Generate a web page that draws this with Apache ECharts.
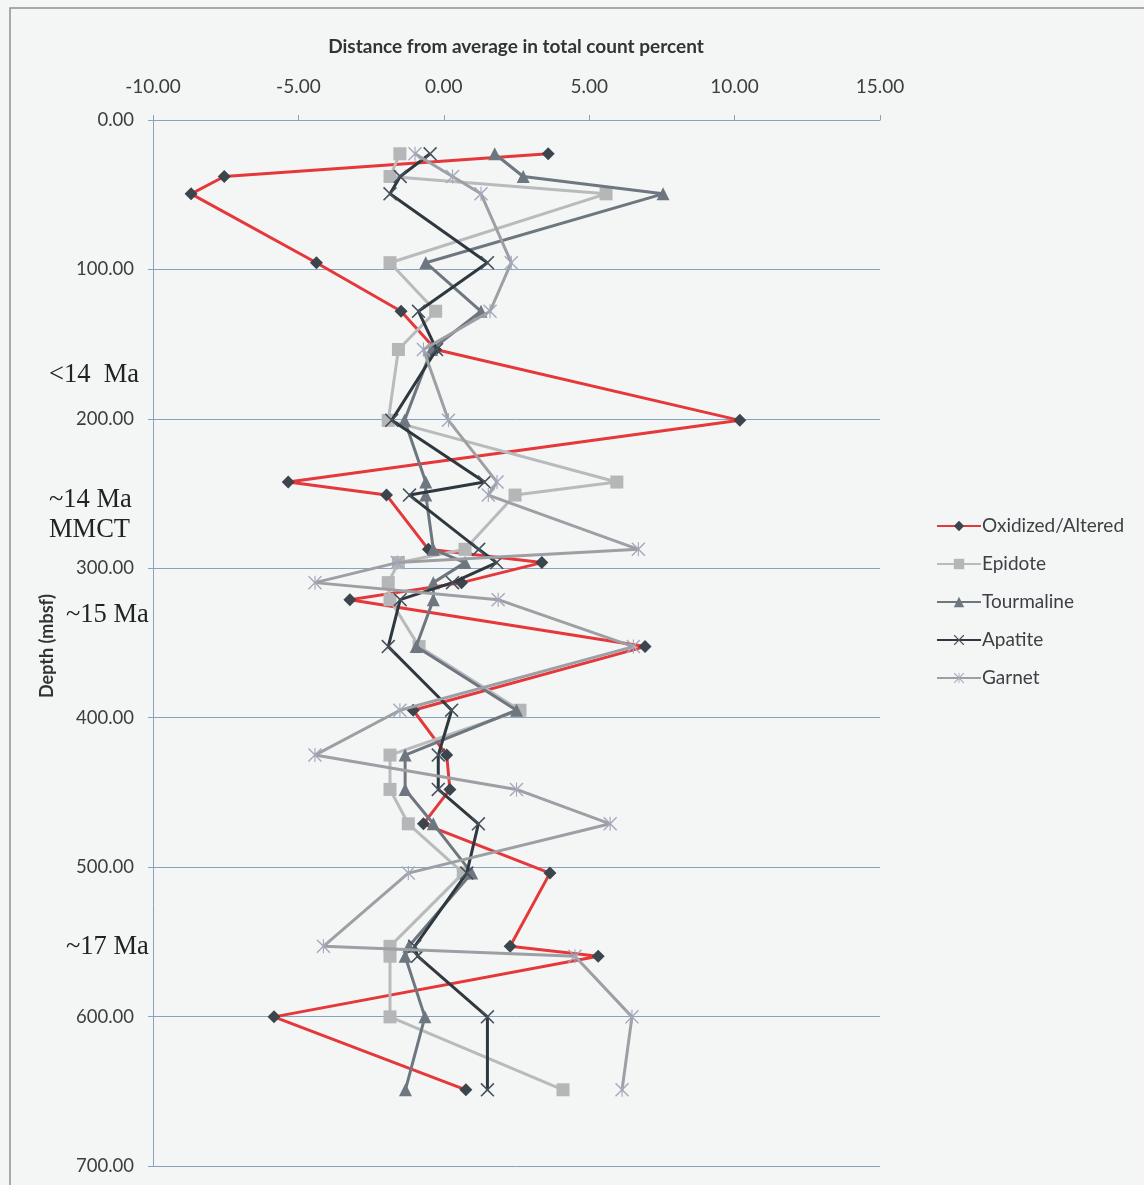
<!DOCTYPE html>
<html>
<head>
<meta charset="utf-8">
<script src="https://cdn.jsdelivr.net/npm/echarts@6/dist/echarts.min.js"></script>
<style>
  html, body { margin: 0; padding: 0; background: #f4f5f5; }
  #chart { width: 1144px; height: 1185px; }
</style>
</head>
<body>
<div id="chart"></div>
<script>
// Sample depths (mbsf) shared by every mineral series
const depths = [22.6, 37.8, 49.4, 95.5, 128, 153.6, 201, 242.3, 251, 287.3, 296.2, 309.6, 321,
                352.4, 395, 425, 448, 471, 504, 553, 559.6, 600.2, 649];

// Distance from average in total count percent, one value per depth
const oxidized   = [3.59, -7.55, -8.69, -4.38, -1.47, -0.28, 10.18, -5.35, -1.97, -0.53, 3.37, 0.61, -3.23,
                    6.92, -1.05, 0.10, 0.21, -0.70, 3.65, 2.28, 5.31, -5.84, 0.76];
const epidote    = [-1.51, -1.85, 5.58, -1.85, -0.28, -1.56, -1.91, 5.95, 2.45, 0.73, -1.56, -1.91, -1.85,
                    -0.85, 2.62, -1.85, -1.85, -1.22, 0.67, -1.85, -1.85, -1.85, 4.10];
const tourmaline = [1.75, 2.73, 7.54, -0.62, 1.28, -0.42, -1.35, -0.62, -0.62, -0.36, 0.73, -0.36, -0.36,
                    -0.95, 2.50, -1.33, -1.33, -0.36, 0.96, -1.20, -1.33, -0.65, -1.32];
const apatite    = [-0.47, -1.50, -1.85, 1.50, -0.87, -0.25, -1.79, 1.40, -1.18, 1.20, 1.82, 0.30, -1.50,
                    -1.91, 0.27, -0.19, -0.19, 1.19, 0.79, -1.00, -0.90, 1.50, 1.50];
const garnet     = [-0.99, 0.30, 1.28, 2.32, 1.59, -0.70, 0.16, 1.83, 1.53, 6.69, -1.60, -4.43, 1.87,
                    6.52, -1.51, -4.43, 2.50, 5.72, -1.22, -4.14, 4.51, 6.47, 6.13];

const seriesNames = ['Oxidized/Altered', 'Epidote', 'Tourmaline', 'Apatite', 'Garnet'];

// Age annotations beside the depth axis
const ageLabels = [
  { text: '<14  Ma', depth: 171 },
  { text: '~14 Ma', depth: 254 },
  { text: 'MMCT', depth: 274.5 },
  { text: '~15 Ma', depth: 331.5 },
  { text: '~17 Ma', depth: 553.5 }
];

const xMin = -10, xMax = 15, xStep = 5;
const yMin = 0, yMax = 700, yStep = 100;

const crossPath = 'path://M0,0.8 L0.8,0 L5,4.2 L9.2,0 L10,0.8 L5.8,5 L10,9.2 L9.2,10 L5,5.8 L0.8,10 L0,9.2 L4.2,5 Z';
const starPath  = 'path://M0,0.7 L0.7,0 L5,4.3 L9.3,0 L10,0.7 L5.7,5 L10,9.3 L9.3,10 L5,5.7 L0.7,10 L0,9.3 L4.3,5 Z M4.6,0 L5.4,0 L5.4,10 L4.6,10 Z';

const styles = [
  { line: '#e5383a', mark: '#3c454d', symbol: 'diamond',  size: 13 },
  { line: '#b9babc', mark: '#b5b6b8', symbol: 'rect',     size: 13 },
  { line: '#6e777f', mark: '#6e777f', symbol: 'triangle', size: 13 },
  { line: '#2e383e', mark: '#46515b', symbol: crossPath,  size: 14 },
  { line: '#9d9fa4', mark: '#a3a8ba', symbol: starPath,   size: 14 }
];

const values = [oxidized, epidote, tourmaline, apatite, garnet];

const chart = echarts.init(document.getElementById('chart'));

const gridLeft = 153, gridTop = 120, gridRight = 264, gridBottom = 19;
const plotH = 1185 - gridTop - gridBottom;
const depthToY = d => gridTop + (d - yMin) / (yMax - yMin) * plotH;

const option = {
  backgroundColor: '#f4f5f5',
  animation: false,
  grid: { left: gridLeft, top: gridTop, right: gridRight, bottom: gridBottom, containLabel: false },
  xAxis: {
    type: 'value',
    position: 'top',
    min: xMin, max: xMax, interval: xStep,
    axisLine: { show: true, onZero: false, lineStyle: { color: '#8aa2bb', width: 1 } },
    axisTick: { show: true, length: 5, lineStyle: { color: '#8aa2bb' } },
    splitLine: { show: false },
    axisLabel: {
      margin: 24,
      color: '#3d3d3d',
      fontFamily: 'Lato',
      fontSize: 19,
      formatter: v => v.toFixed(2)
    }
  },
  yAxis: {
    type: 'value',
    inverse: true,
    min: yMin, max: yMax, interval: yStep,
    axisLine: { show: true, onZero: false, lineStyle: { color: '#8aa2bb', width: 1 } },
    axisTick: { show: true, length: 5, lineStyle: { color: '#8aa2bb' } },
    splitLine: { show: true, lineStyle: { color: '#86a2be', width: 1 } },
    axisLabel: {
      margin: 19,
      color: '#3d3d3d',
      fontFamily: 'Lato',
      fontSize: 18.5,
      formatter: v => v.toFixed(2)
    }
  },
  legend: {
    orient: 'vertical',
    left: 931,
    top: 510,
    itemWidth: 44,
    itemHeight: 13,
    itemGap: 16,
    textStyle: { color: '#3d4045', fontFamily: 'Lato', fontSize: 19, lineHeight: 22, padding: [0, 0, 0, -4] },
    data: seriesNames
  },
  series: seriesNames.map((name, i) => ({
    name,
    type: 'line',
    data: values[i].map((v, k) => [v, depths[k]]),
    symbol: styles[i].symbol,
    symbolSize: styles[i].size,
    showAllSymbol: true,
    lineStyle: { color: styles[i].line, width: 3 },
    itemStyle: { color: styles[i].mark, borderWidth: 0 },
    emphasis: { disabled: true },
    z: 2 + i
  })),
  graphic: [
    {
      type: 'rect',
      shape: { x: 10, y: 8, width: 1140, height: 1190 },
      style: { fill: 'none', stroke: '#8d9094', lineWidth: 1.5 },
      silent: true
    },
    {
      type: 'text',
      x: 516, y: 47,
      style: {
        text: 'Distance from average in total count percent',
        fill: '#333',
        font: 'bold 19px Lato',
        textAlign: 'center',
        textVerticalAlign: 'middle'
      }
    },
    {
      type: 'text',
      x: 47, y: 646,
      rotation: Math.PI / 2,
      style: {
        text: 'Depth (mbsf)',
        fill: '#333',
        font: 'bold 18px Lato',
        textAlign: 'center',
        textVerticalAlign: 'middle'
      }
    }
  ].concat(ageLabels.map((a, i) => ({
    type: 'text',
    x: (i >= 3) ? 66 : 49,
    y: depthToY(a.depth),
    style: {
      text: a.text,
      fill: '#222',
      font: '26.5px "Liberation Serif"',
      textAlign: 'left',
      textVerticalAlign: 'middle'
    }
  })))
};

chart.setOption(option);
</script>
</body>
</html>
